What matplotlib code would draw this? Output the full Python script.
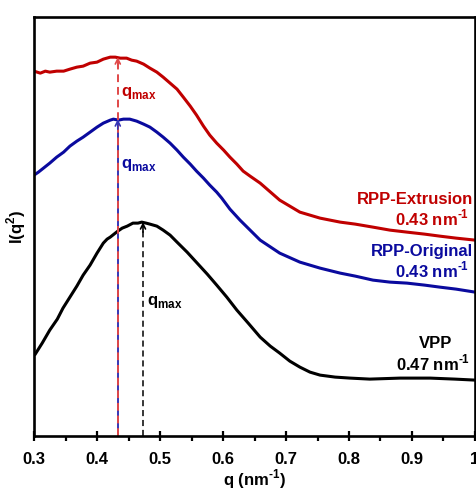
import matplotlib
matplotlib.use('Agg')
import matplotlib.pyplot as plt
from matplotlib.ticker import MultipleLocator

plt.rcParams['font.family'] = ['Liberation Sans', 'DejaVu Sans']
plt.rcParams['mathtext.fontset'] = 'custom'
plt.rcParams['mathtext.rm'] = 'Liberation Sans:bold'
plt.rcParams['mathtext.bf'] = 'Liberation Sans:bold'

# intensity in arbitrary units
q_red = [0.300, 0.310, 0.318, 0.325, 0.336, 0.347, 0.357, 0.368, 0.378, 0.389,
         0.400, 0.410, 0.421, 0.429, 0.437, 0.447, 0.455, 0.463, 0.474, 0.484,
         0.495, 0.505, 0.516, 0.527, 0.537, 0.548, 0.558, 0.569, 0.579, 0.590,
         0.601, 0.611, 0.622, 0.632, 0.643, 0.659, 0.690, 0.722, 0.754, 0.786,
         0.810, 0.838, 0.865, 0.892, 0.920, 0.944, 0.970, 1.000]
i_red = [365, 363, 365, 364, 365, 365, 367, 369, 370, 373,
         374, 377, 379, 379, 378, 378, 376, 375, 372, 368,
         364, 359, 353, 347, 339, 330, 321, 310, 301, 293,
         286, 279, 272, 265, 260, 253, 236, 224, 218, 214,
         212, 209, 206, 204, 202, 200, 198, 196]

q_blue = [0.300, 0.307, 0.315, 0.325, 0.336, 0.347, 0.357, 0.368, 0.378, 0.389,
          0.400, 0.410, 0.421, 0.426, 0.434, 0.442, 0.452, 0.463, 0.474, 0.484,
          0.495, 0.505, 0.516, 0.527, 0.537, 0.548, 0.558, 0.569, 0.579, 0.590,
          0.598, 0.611, 0.627, 0.659, 0.690, 0.722, 0.754, 0.786, 0.810, 0.838,
          0.865, 0.892, 0.920, 0.944, 0.970, 1.000]
i_blue = [261, 264, 268, 273, 279, 284, 290, 295, 299, 304,
          309, 313, 316, 317, 316, 317, 317, 315, 312, 309,
          304, 299, 293, 286, 279, 272, 265, 258, 251, 244,
          238, 227, 216, 196, 183, 174, 168, 163, 160, 156,
          154, 153, 151, 149, 147, 144]

q_black = [0.302, 0.313, 0.325, 0.337, 0.346, 0.357, 0.368, 0.378, 0.389, 0.400,
           0.410, 0.416, 0.421, 0.427, 0.433, 0.440, 0.448, 0.457, 0.465, 0.471,
           0.478, 0.484, 0.495, 0.505, 0.516, 0.527, 0.543, 0.559, 0.575, 0.590,
           0.606, 0.622, 0.640, 0.659, 0.675, 0.690, 0.706, 0.722, 0.738, 0.754,
           0.778, 0.802, 0.833, 0.881, 0.929, 0.968, 1.000]
i_black = [82, 93, 106, 117, 128, 139, 150, 161, 171, 183,
           193, 197, 199, 202, 205, 208, 210, 213, 213, 214,
           213, 212, 210, 206, 201, 194, 184, 173, 162, 151,
           139, 126, 113, 99, 90, 83, 75, 69, 64, 61,
           59, 58, 57, 58, 58, 57, 56]

# peak positions and heights
qmax_rpp = 0.433
qmax_vpp = 0.473
peak_red = 379
peak_blue = 317
peak_black = 214

RED = '#C00000'
BLUE = '#0A0A9E'

fig = plt.figure(figsize=(4.77, 4.90), dpi=100)
ax = fig.add_axes([0.0713, 0.110, 0.9245, 0.855])

ax.plot(q_red, i_red, color=RED, lw=2.2)
ax.plot(q_blue, i_blue, color=BLUE, lw=2.2)
ax.plot(q_black, i_black, color='black', lw=2.2)

# q_max markers
ax.plot([qmax_rpp, qmax_rpp], [0, peak_blue], color='#3535B5', lw=1.4)
ax.plot([qmax_rpp, qmax_rpp], [0, peak_red], color='#E04848', lw=1.4, dashes=(4, 2.5))
ax.plot([qmax_vpp, qmax_vpp], [0, peak_black], color='black', lw=1.1, dashes=(4, 2.5))
for q, top, c in [(qmax_rpp, peak_red, '#E04848'), (qmax_rpp, peak_blue, '#3535B5'),
                  (qmax_vpp, peak_black, 'black')]:
    ax.annotate('', xy=(q, top), xytext=(q, top - 10),
                arrowprops=dict(arrowstyle='->', color=c, lw=1.2,
                                shrinkA=0, shrinkB=0, mutation_scale=9))

tkw = dict(fontsize=12, fontweight='bold')
ax.text(0.4385, 343, r'q$_{\mathbf{max}}$', color=RED, va='center', **tkw)
ax.text(0.4385, 271, r'q$_{\mathbf{max}}$', color=BLUE, va='center', **tkw)
ax.text(0.479, 134, r'q$_{\mathbf{max}}$', color='black', va='center', **tkw)

inv = r'nm$^{\text{-1}}$'
ax.text(0.997, 237, 'RPP-Extrusion', color=RED, ha='right', va='center', **tkw)
ax.text(0.99, 218, '0.43 ' + inv, color=RED, ha='right', va='center', **tkw)
ax.text(0.997, 185, 'RPP-Original', color=BLUE, ha='right', va='center', **tkw)
ax.text(0.99, 166, '0.43 ' + inv, color=BLUE, ha='right', va='center', **tkw)
ax.text(0.937, 93, 'VPP', color='black', ha='center', va='center', **tkw)
ax.text(0.992, 73, '0.47 ' + inv, color='black', ha='right', va='center', **tkw)

ax.set_xlim(0.3, 1.0)
ax.set_ylim(0, 419)
ax.xaxis.set_minor_locator(MultipleLocator(0.05))
ax.set_xticks([0.3, 0.4, 0.5, 0.6, 0.7, 0.8, 0.9, 1.0])
ax.set_xticklabels(['0.3', '0.4', '0.5', '0.6', '0.7', '0.8', '0.9', '1'])
ax.tick_params(axis='x', which='major', direction='inout', length=7, width=1.6,
               labelsize=12, pad=8)
ax.tick_params(axis='x', which='minor', direction='out', length=3.5, width=1.6)
for lab in ax.get_xticklabels():
    lab.set_fontweight('bold')
ax.set_yticks([])

for s in ax.spines.values():
    s.set_linewidth(1.9)

ax.set_xlabel('q (' + inv + ')', fontsize=12, fontweight='bold', labelpad=0)
ax.set_ylabel(r'I(q$^{\mathbf{2}}$)', fontsize=12, fontweight='bold', labelpad=4)

fig.savefig('out.png', dpi=100)
